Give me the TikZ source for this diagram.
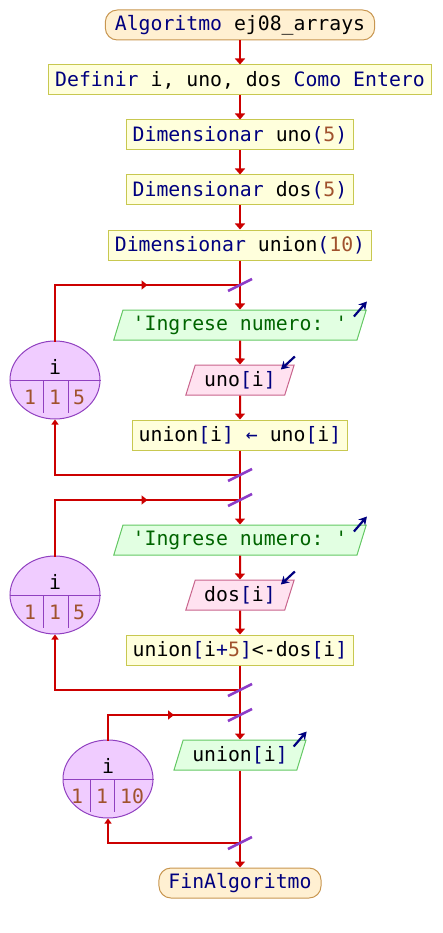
\documentclass[tikz,border=0pt]{standalone}
\usepackage{fontspec}
\setmonofont{DejaVu Sans Mono}
\usetikzlibrary{shapes.geometric,arrows.meta,decorations.markings}
\definecolor{kw}{HTML}{00007F}
\definecolor{nm}{HTML}{A0522D}
\definecolor{cad}{HTML}{006400}
\definecolor{linea}{HTML}{CC0000}
\definecolor{corte}{HTML}{8C3CC8}
\definecolor{procfill}{HTML}{FFFFDC}
\definecolor{procline}{HTML}{C8C850}
\definecolor{termfill}{HTML}{FFF0D2}
\definecolor{termline}{HTML}{C89650}
\definecolor{salfill}{HTML}{E2FFE2}
\definecolor{salline}{HTML}{64C864}
\definecolor{entfill}{HTML}{FFE2F0}
\definecolor{entline}{HTML}{C8648C}
\definecolor{contfill}{HTML}{F0CCFF}
\definecolor{contline}{HTML}{9040C0}
\newcommand{\kw}[1]{\textcolor{kw}{#1}}
\newcommand{\nm}[1]{\textcolor{nm}{#1}}
\newcommand{\cad}[1]{\textcolor{cad}{#1}}

\begin{document}
\begin{tikzpicture}[x=1pt,y=-1pt,
    every node/.style={font=\ttfamily\fontsize{19.8}{24}\selectfont,inner ysep=0pt},
    proc/.style={draw=procline,fill=procfill,line width=1pt,minimum height=30,inner xsep=6.5pt},
    term/.style={draw=termline,fill=termfill,line width=1pt,rounded corners=12pt,minimum height=30,inner xsep=9.5pt},
    sal/.style={trapezium,trapezium left angle=65,trapezium right angle=115,trapezium stretches=true,
      draw=salline,fill=salfill,line width=1pt,minimum height=30,minimum width=#1},
    ent/.style={trapezium,trapezium left angle=65,trapezium right angle=115,trapezium stretches=true,
      draw=entline,fill=entfill,line width=1pt,minimum height=30,minimum width=#1},
    cont/.style={ellipse,draw=contline,fill=contfill,line width=1pt,minimum width=90,minimum height=78,inner sep=0pt},
    cline/.style={draw=contline,line width=1pt},
    flujo/.style={draw=linea,line width=2pt,-{Triangle[width=10pt,length=6pt]}},
    vuelta/.style={draw=linea,line width=2pt,-{Triangle[width=7pt,length=5pt]}},
    linea/.style={draw=linea,line width=2pt},
    medio/.style={postaction={decorate},decoration={markings,mark=at position 0.5 with
      {\arrow[linea]{Triangle[width=9pt,length=6pt]}}}},
    corte/.style={draw=corte,line width=2.5pt},
    icono/.style={draw=kw,line width=2.2pt,-{Stealth[width=9pt,length=8pt]}}]
  \useasboundingbox (0,0) rectangle (442,933);

  % bloques principales
  \node[term] (Ini) at (240,25) {\kw{Algoritmo} ej08\_arrays};
  \node[proc] (Def) at (240,80) {\kw{Definir} i, uno, dos \kw{Como Entero}};
  \node[proc] (D1) at (240,135) {\kw{Dimensionar} uno\kw{(}\nm{5}\kw{)}};
  \node[proc] (D2) at (240,190) {\kw{Dimensionar} dos\kw{(}\nm{5}\kw{)}};
  \node[proc] (D3) at (240,245) {\kw{Dimensionar} union\kw{(}\nm{10}\kw{)}};

  \node[sal=253] (E1) at (240,325) {\cad{'Ingrese numero: '}};
  \node[ent=109] (L1) at (240,380) {uno\kw{[}i\kw{]}};
  \node[proc] (A1) at (240,435) {union\kw{[}i\kw{]} \kw{←} uno\kw{[}i\kw{]}};

  \node[sal=253] (E2) at (240,540) {\cad{'Ingrese numero: '}};
  \node[ent=109] (L2) at (240,595) {dos\kw{[}i\kw{]}};
  \node[proc] (A2) at (240,650) {union\kw{[}i\kw{+}\nm{5}\kw{]}<-dos\kw{[}i\kw{]}};

  \node[sal=132] (E3) at (240,755) {union\kw{[}i\kw{]}};
  \node[term] (Fin) at (240,883) {\kw{FinAlgoritmo}};

  % contadores de los bucles
  \node[cont] (V1) at (55,380) {};
  \node[cont] (V2) at (55,595) {};
  \node[cont] (V3) at (108,779) {};
  \foreach \v/\a/\b/\c/\d/\e/\f/\g/\fin in {V1/-12/13/-25/0/24/1/1/5,V2/-12/13/-25/0/24/1/1/5,V3/-18/6/-31/-6/24/1/1/10} {
    \draw[cline] (\v.west) -- (\v.east);
    \draw[cline] ([xshift=\a pt]\v.center) -- ++(0,33);
    \draw[cline] ([xshift=\b pt]\v.center) -- ++(0,33);
    \node (\v i) at ([shift={(0,-13)}]\v.center) {i};
    \node (\v a) at ([shift={(\c,17)}]\v.center) {\nm{\f}};
    \node (\v b) at ([shift={(\d,17)}]\v.center) {\nm{\g}};
    \node (\v c) at ([shift={(\e,17)}]\v.center) {\nm{\fin}};
  }

  % puntos de union
  \coordinate (S1) at (240,285);
  \coordinate (S2) at (240,475);
  \coordinate (S3) at (240,500);
  \coordinate (S4) at (240,690);
  \coordinate (S5) at (240,715);
  \coordinate (S6) at (240,843);
  \coordinate (T1) at (55,285);
  \coordinate (T2) at (55,500);
  \coordinate (T3) at (108,715);

  \draw[flujo] (Ini) -- (Def);
  \draw[flujo] (Def) -- (D1);
  \draw[flujo] (D1) -- (D2);
  \draw[flujo] (D2) -- (D3);
  \draw[flujo] (D3) -- (S1) -- (E1);
  \draw[flujo] (E1) -- (L1);
  \draw[flujo] (L1) -- (A1);
  \draw[flujo] (A1) -- (S2) -- (S3) -- (E2);
  \draw[flujo] (E2) -- (L2);
  \draw[flujo] (L2) -- (A2);
  \draw[flujo] (A2) -- (S4) -- (S5) -- (E3);
  \draw[flujo] (E3) -- (S6) -- (Fin);

  % bucles
  \draw[vuelta] (S2) -| (V1);
  \draw[vuelta] (S4) -| (V2);
  \draw[vuelta] (S6) -| (V3);
  \draw[linea,line cap=rect] (V1) -- (T1);
  \draw[linea,line cap=rect] (V2) -- (T2);
  \draw[linea,line cap=rect] (V3) -- (T3);
  \draw[linea,medio] (T1) -- (S1);
  \draw[linea,medio] (T2) -- (S3);
  \draw[linea,medio] (T3) -- (S5);

  \foreach \s in {S1,S2,S3,S4,S5,S6}
    \draw[corte] (\s) ++(-12,6) -- ++(24,-12);

  % entrada y salida
  \draw[icono] ([shift={(-13,7)}]E1.top right corner) -- ++(13,-15);
  \draw[icono] ([shift={(-13,7)}]E2.top right corner) -- ++(13,-15);
  \draw[icono] ([shift={(-13,7)}]E3.top right corner) -- ++(13,-15);
  \draw[icono] ([shift={(0,-8)}]L1.top right corner) -- ++(-14,13);
  \draw[icono] ([shift={(0,-8)}]L2.top right corner) -- ++(-14,13);
\end{tikzpicture}
\end{document}
